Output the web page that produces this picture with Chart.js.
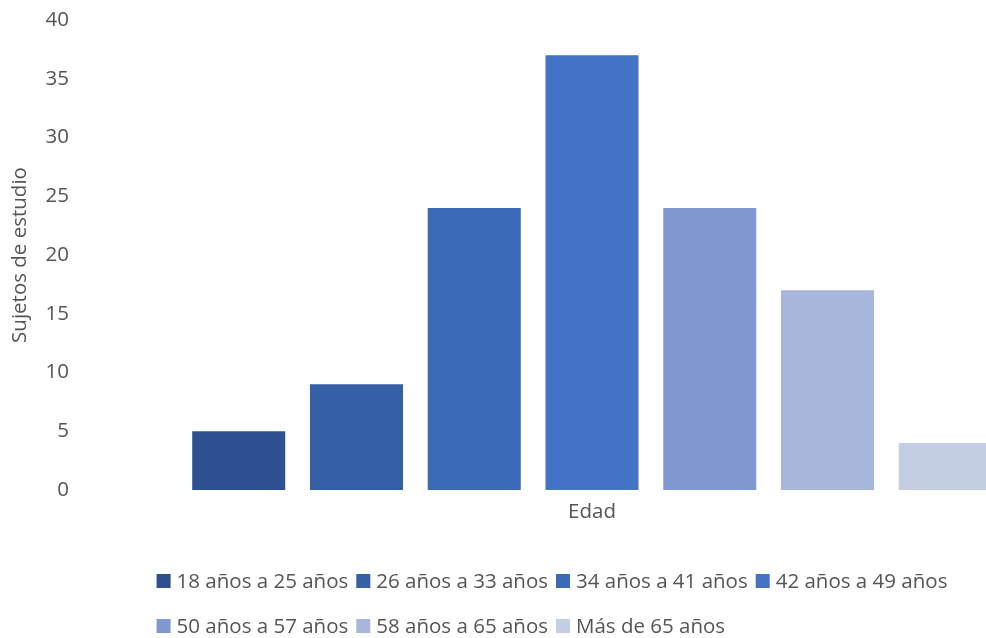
<!DOCTYPE html>
<html>
<head>
<meta charset="utf-8">
<script src="https://cdn.jsdelivr.net/npm/chart.js@4/dist/chart.umd.min.js"></script>
<style>
  html, body { margin: 0; padding: 0; background: #fff; overflow: hidden; width: 986px; height: 638px; }
  #wrap { position: relative; width: 1104px; height: 638px; }
</style>
</head>
<body>
<div id="wrap"><canvas id="chart" width="1104" height="638"></canvas></div>
<script>
// Age groups of the study subjects
const categories = ['Edad'];
const seriesNames = [
  '18 años a 25 años',
  '26 años a 33 años',
  '34 años a 41 años',
  '42 años a 49 años',
  '50 años a 57 años',
  '58 años a 65 años',
  'Más de 65 años'
];
const seriesValues = [5, 9, 24, 37, 24, 17, 4];
const seriesColors = ['#2F5090', '#3560A5', '#3B6AB8', '#4472C4', '#7F98D0', '#A7B6DA', '#C3CDE4'];
const yTicks = [0, 5, 10, 15, 20, 25, 30, 35, 40];
const yTitle = 'Sujetos de estudio';

const FONT_FAMILY = '"Open Sans", "Noto Sans", sans-serif';
const TEXT_COLOR = '#555555';

// Legend laid out as a centred block with left-aligned rows
const blockLegend = {
  id: 'blockLegend',
  afterDraw(chart, args, opts) {
    const ctx = chart.ctx;
    ctx.save();
    ctx.font = opts.fontSize + 'px ' + FONT_FAMILY;
    const items = chart.data.datasets.map(ds => {
      const tw = ctx.measureText(ds.label).width;
      return { text: ds.label, color: ds.backgroundColor, w: opts.box + opts.boxGap + tw };
    });
    const rows = [];
    let cur = [], curW = 0;
    items.forEach(it => {
      const add = (cur.length ? opts.itemGap : 0) + it.w;
      if (cur.length && curW + add > opts.maxRowWidth) {
        rows.push({ items: cur, w: curW });
        cur = []; curW = 0;
      }
      curW += (cur.length ? opts.itemGap : 0) + it.w;
      cur.push(it);
    });
    if (cur.length) rows.push({ items: cur, w: curW });
    const blockW = Math.max(...rows.map(r => r.w));
    const left = (chart.width - blockW) / 2;
    ctx.textBaseline = 'middle';
    ctx.textAlign = 'left';
    rows.forEach((row, r) => {
      const cy = opts.firstRowY + r * opts.rowGap;
      let x = left;
      row.items.forEach(it => {
        ctx.fillStyle = it.color;
        ctx.fillRect(x, cy - opts.box / 2, opts.box, opts.box);
        ctx.fillStyle = TEXT_COLOR;
        ctx.fillText(it.text, x + opts.box + opts.boxGap, cy + 1);
        x += it.w + opts.itemGap;
      });
    });
    ctx.restore();
  }
};

const datasets = seriesNames.map((name, i) => ({
  label: name,
  data: [seriesValues[i]],
  backgroundColor: seriesColors[i],
  borderWidth: 0,
  categoryPercentage: 0.805,
  barPercentage: 0.79
}));

new Chart(document.getElementById('chart'), {
  type: 'bar',
  data: { labels: categories, datasets },
  plugins: [blockLegend],
  options: {
    responsive: false,
    animation: false,
    devicePixelRatio: 1,
    layout: { padding: { top: 20, right: 0, bottom: 98, left: 0 } },
    plugins: {
      legend: { display: false },
      tooltip: { enabled: false },
      blockLegend: {
        fontSize: 20.5,
        box: 14,
        boxGap: 6,
        itemGap: 8,
        maxRowWidth: 860,
        firstRowY: 581,
        rowGap: 45
      }
    },
    scales: {
      x: {
        grid: { display: false, drawTicks: false },
        border: { display: false },
        ticks: { color: TEXT_COLOR, font: { family: FONT_FAMILY, size: 20.5 }, padding: 10 },
        afterFit(scale) { scale.height = 50; }
      },
      y: {
        min: 0,
        max: 40,
        afterBuildTicks(scale) { scale.ticks = yTicks.map(v => ({ value: v })); },
        grid: { display: false, drawTicks: false },
        border: { display: false },
        ticks: { color: TEXT_COLOR, font: { family: FONT_FAMILY, size: 20.5 }, padding: 11 },
        title: {
          display: true,
          text: yTitle,
          color: TEXT_COLOR,
          font: { family: FONT_FAMILY, size: 20.5 },
          padding: { top: 8, bottom: 4 }
        },
        afterFit(scale) {
          scale.width = 80;
          scale.paddingTop = 0;
          scale.paddingBottom = 0;
        }
      }
    }
  }
});
</script>
</body>
</html>
